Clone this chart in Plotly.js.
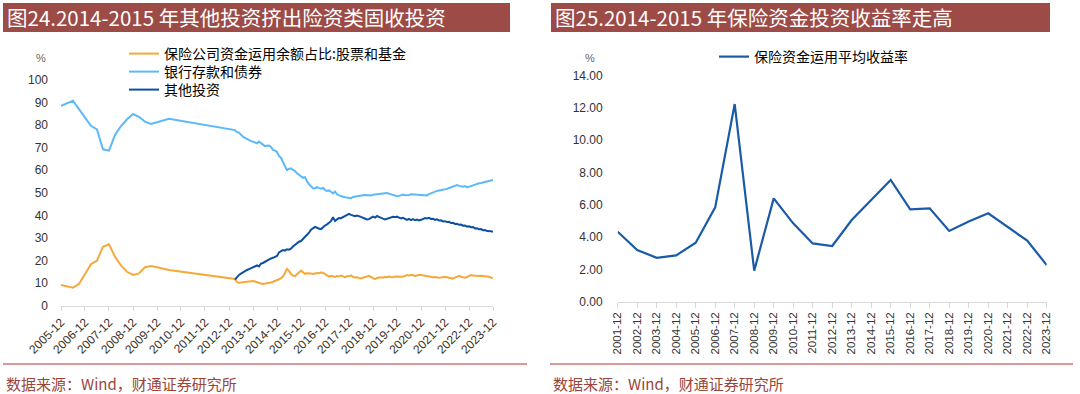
<!DOCTYPE html>
<html><head><meta charset="utf-8">
<script src="https://cdn.plot.ly/plotly-3.0.1.min.js"></script>
<style>html,body{margin:0;padding:0;background:#fff;} #chart{width:1080px;height:394px;}</style>
</head><body><div id="chart"></div>
<script>
// ---------- Left chart data ----------
const earlyDates = ['2005-12','2006-03','2006-06','2006-09','2006-12','2007-03','2007-06','2007-09','2007-12',
  '2008-03','2008-06','2008-09','2008-12','2009-03','2009-06','2009-09','2009-12','2010-03','2010-06'];
const monthDates = [];
for (let y = 2013; y <= 2023; y++) { for (let m = (y === 2013 ? 3 : 1); m <= 12; m++) { monthDates.push(y + '-' + String(m).padStart(2, '0')); } }

const stockFundEarly = [9.2,8.6,8.0,9.6,14.0,18.4,19.9,26.1,27.2,21.7,17.8,15.0,13.6,14.3,17.0,17.6,17.0,16.3,15.8];
const stockFundMonthly = [
  11.8,10.4,10.2,10.3,10.5,10.4,10.5,10.6,10.8,10.9,
  10.7,10.3,10.0,9.8,9.6,9.7,9.9,10.1,10.3,10.6,10.9,11.3,
  11.7,12.2,12.9,14.5,16.3,15.4,14.0,13.3,13.1,13.9,14.6,15.5,
  14.8,14.1,14.3,14.4,14.2,14.0,14.3,14.5,14.4,14.7,14.6,13.9,
  13.3,12.8,13.2,13.0,12.7,13.1,12.9,13.3,12.8,12.6,13.0,13.0,
  13.4,12.7,12.5,12.6,12.3,12.1,12.4,12.6,12.8,13.2,12.7,12.2,
  11.8,12.3,12.5,12.6,12.4,12.7,12.6,12.9,12.7,12.6,12.9,12.8,
  13.0,12.6,12.8,13.2,13.6,13.3,13.7,13.5,13.2,13.4,13.7,13.6,
  13.4,13.2,12.9,13.0,12.8,12.6,12.7,12.5,12.4,12.5,12.7,12.8,
  12.6,12.3,12.0,12.0,12.4,12.8,13.2,12.8,12.5,12.4,12.7,13.1,
  13.6,13.4,13.2,13.3,13.1,13.2,13.2,13.0,12.9,12.8,12.5,12.1];

const depositBondEarly = [88.4,89.5,90.7,87.0,83.2,79.6,78.0,69.2,68.6,75.5,79.5,82.5,84.8,83.6,81.4,80.4,81.2,82.0,82.7];
const depositBondMonthly = [
  77.7,76.8,76.6,75.5,74.8,74.3,73.8,73.2,72.8,72.6,
  72.3,71.8,72.6,71.9,71.2,70.6,70.8,70.9,70.2,68.9,68.6,68.0,
  66.2,65.4,63.6,61.6,60.0,60.5,60.8,60.1,59.6,58.6,57.8,57.0,
  56.6,56.9,55.0,53.8,52.7,52.0,51.9,52.5,52.0,51.8,52.1,51.2,
  50.8,51.0,50.4,49.7,50.5,49.3,48.8,48.4,48.2,48.0,47.8,47.5,
  47.6,48.1,48.3,48.4,48.6,48.8,48.9,49.0,48.9,48.6,48.8,49.1,
  49.2,49.3,49.5,49.4,49.6,49.7,49.9,49.6,49.3,49.0,48.7,48.4,
  48.6,49.1,49.2,48.9,48.8,49.0,49.3,49.2,49.4,49.2,49.0,48.9,
  48.8,48.7,48.8,49.4,49.8,50.2,50.5,50.8,51.0,51.2,51.1,51.4,
  51.7,52.1,52.4,52.7,53.0,53.4,53.0,52.8,52.6,52.9,52.4,52.6,
  53.0,53.3,53.6,54.0,54.2,54.3,54.5,54.6,54.8,55.0,55.2,55.6];

const otherInvMonthly = [
  11.5,12.8,13.6,14.2,14.8,15.3,15.8,16.2,16.6,17.0,
  17.4,17.8,17.4,18.6,18.9,19.5,20.0,20.4,20.9,21.2,21.5,22.0,
  23.6,24.3,24.6,24.4,25.0,24.8,25.2,26.2,27.0,27.8,28.3,28.6,
  29.5,30.4,31.5,32.3,33.6,34.2,34.9,34.5,34.0,33.9,34.8,35.5,
  36.0,36.8,37.4,39.1,37.5,38.2,38.8,38.7,39.2,39.6,40.0,40.6,
  40.2,39.8,39.6,39.9,39.7,39.3,38.9,38.6,38.2,38.3,38.9,39.4,
  39.0,39.7,39.3,38.8,38.5,38.2,38.5,38.9,39.1,39.3,39.2,39.4,
  39.0,38.6,38.9,38.3,38.0,38.4,37.9,38.3,37.8,38.1,37.7,38.0,
  38.4,38.8,38.6,38.9,38.4,38.5,38.0,38.2,37.7,37.8,37.3,37.4,
  37.0,37.1,36.6,36.7,36.2,36.3,35.8,35.9,35.4,35.5,35.0,35.1,
  34.7,34.8,34.2,34.3,33.8,33.9,33.4,33.5,33.0,33.1,32.9,32.7];

// ---------- Right chart data ----------
const yearLabels = ['2001-12','2002-12','2003-12','2004-12','2005-12','2006-12','2007-12','2008-12','2009-12','2010-12','2011-12',
  '2012-12','2013-12','2014-12','2015-12','2016-12','2017-12','2018-12','2019-12','2020-12','2021-12','2022-12','2023-12'];
const avgYield = [4.33,3.20,2.72,2.87,3.65,5.84,12.24,1.92,6.40,4.85,3.61,3.45,5.06,6.30,7.54,5.72,5.78,4.38,4.96,5.47,4.64,3.78,2.27];

const names = ['保险公司资金运用余额占比:股票和基金','银行存款和债券','其他投资','保险资金运用平均收益率'];
const titles = ['图24.2014-2015 年其他投资挤出险资类固收投资','图25.2014-2015 年保险资金投资收益率走高'];
const sourceText = '数据来源：Wind，财通证券研究所';

// ---------- helpers ----------
const W = 1080, H = 394;
const px = x => x / W, py = y => 1 - y / H;
const CJK = 'Noto Sans CJK SC, Noto Sans, sans-serif';
const NUM = 'Liberation Sans, Arial, sans-serif';
const HEAD = '#9C4B46', RED = '#B5352F', SRC = '#9A4538';

const traces = [
  {type:'scatter', mode:'lines', name:names[0], x:earlyDates.concat(monthDates), y:stockFundEarly.concat(stockFundMonthly),
   line:{color:'#F5A93A', width:2}, xaxis:'x', yaxis:'y', legend:'legend'},
  {type:'scatter', mode:'lines', name:names[1], x:earlyDates.concat(monthDates), y:depositBondEarly.concat(depositBondMonthly),
   line:{color:'#5CB9F7', width:2}, xaxis:'x', yaxis:'y', legend:'legend2'},
  {type:'scatter', mode:'lines', name:names[2], x:monthDates, y:otherInvMonthly,
   line:{color:'#0D4FA3', width:2}, xaxis:'x', yaxis:'y', legend:'legend3'},
  {type:'scatter', mode:'lines', name:names[3], x:yearLabels, y:avgYield,
   line:{color:'#1A5BA8', width:2.2}, xaxis:'x2', yaxis:'y2', legend:'legend4'}
];

const legFont = {family:CJK, size:14, color:'#000'};
const mkLeg = (x, y) => ({x:px(x), y:py(y), xanchor:'left', yanchor:'middle', bgcolor:'rgba(0,0,0,0)', borderwidth:0,
  font:legFont, itemwidth:30, orientation:'v'});

const layout = {
  width:W, height:H, autosize:false,
  margin:{l:0, r:0, t:0, b:0, pad:0},
  paper_bgcolor:'#fff', plot_bgcolor:'rgba(0,0,0,0)',
  font:{family:NUM, color:'#333'},
  showlegend:true,
  legend: mkLeg(124, 54),
  legend2: mkLeg(124, 72),
  legend3: mkLeg(124, 90),
  legend4: mkLeg(714, 57),
  xaxis:{domain:[px(61), px(493)], anchor:'y', type:'date', range:['2005-12-01','2023-12-01'],
    tick0:'2005-12-01', dtick:'M12', tickformat:'%Y-%m', tickangle:-45,
    showline:true, linecolor:'#d9d9d9', linewidth:1, ticks:'outside', ticklen:4, tickcolor:'#d9d9d9',
    showgrid:false, zeroline:false, tickfont:{family:NUM, size:12, color:'#333'}},
  yaxis:{domain:[py(305.7), py(79.7)], anchor:'x', range:[0,100], dtick:10,
    showgrid:false, zeroline:false, showline:false, ticks:'', ticklabelstandoff:12,
    tickfont:{family:NUM, size:12, color:'#333'}},
  xaxis2:{domain:[px(617.7), px(1046.7)], anchor:'y2', type:'category', range:[0,22], tickangle:-90,
    showline:true, linecolor:'#d9d9d9', linewidth:1, ticks:'outside', ticklen:5, tickcolor:'#d9d9d9',
    showgrid:false, zeroline:false, tickfont:{family:NUM, size:11.5, color:'#333'}},
  yaxis2:{domain:[py(301.7), py(75.6)], anchor:'x2', range:[0,14], dtick:2, tickformat:'.2f',
    showgrid:false, zeroline:false, showline:false, ticks:'', ticklabelstandoff:14,
    tickfont:{family:NUM, size:12, color:'#333'}},
  shapes:[
    {type:'rect', xref:'paper', yref:'paper', x0:px(3), x1:px(510), y0:py(32), y1:py(3), fillcolor:HEAD, line:{width:0}, layer:'below'},
    {type:'rect', xref:'paper', yref:'paper', x0:px(551), x1:px(1050), y0:py(32), y1:py(3), fillcolor:HEAD, line:{width:0}, layer:'below'},
    {type:'line', xref:'paper', yref:'paper', x0:px(3), x1:px(527), y0:py(364), y1:py(364), line:{color:RED, width:1}},
    {type:'line', xref:'paper', yref:'paper', x0:px(550), x1:px(1073), y0:py(364), y1:py(364), line:{color:RED, width:1}}
  ],
  annotations:[
    {xref:'paper', yref:'paper', x:px(5), y:py(17.5), xanchor:'left', yanchor:'middle', showarrow:false,
     text:titles[0], font:{family:CJK, size:20.5, color:'#fff'}},
    {xref:'paper', yref:'paper', x:px(553), y:py(17.5), xanchor:'left', yanchor:'middle', showarrow:false,
     text:titles[1], font:{family:CJK, size:20.5, color:'#fff'}},
    {xref:'paper', yref:'paper', x:px(41), y:py(58), xanchor:'center', yanchor:'middle', showarrow:false,
     text:'%', font:{family:NUM, size:11, color:'#666'}},
    {xref:'paper', yref:'paper', x:px(590), y:py(58), xanchor:'center', yanchor:'middle', showarrow:false,
     text:'%', font:{family:NUM, size:11, color:'#666'}},
    {xref:'paper', yref:'paper', x:px(4), y:py(383), xanchor:'left', yanchor:'middle', showarrow:false,
     text:sourceText, font:{family:CJK, size:15, color:SRC}},
    {xref:'paper', yref:'paper', x:px(551), y:py(383), xanchor:'left', yanchor:'middle', showarrow:false,
     text:sourceText, font:{family:CJK, size:15, color:SRC}}
  ]
};

Plotly.newPlot('chart', traces, layout, {displayModeBar:false, staticPlot:true});
</script>
</body></html>
